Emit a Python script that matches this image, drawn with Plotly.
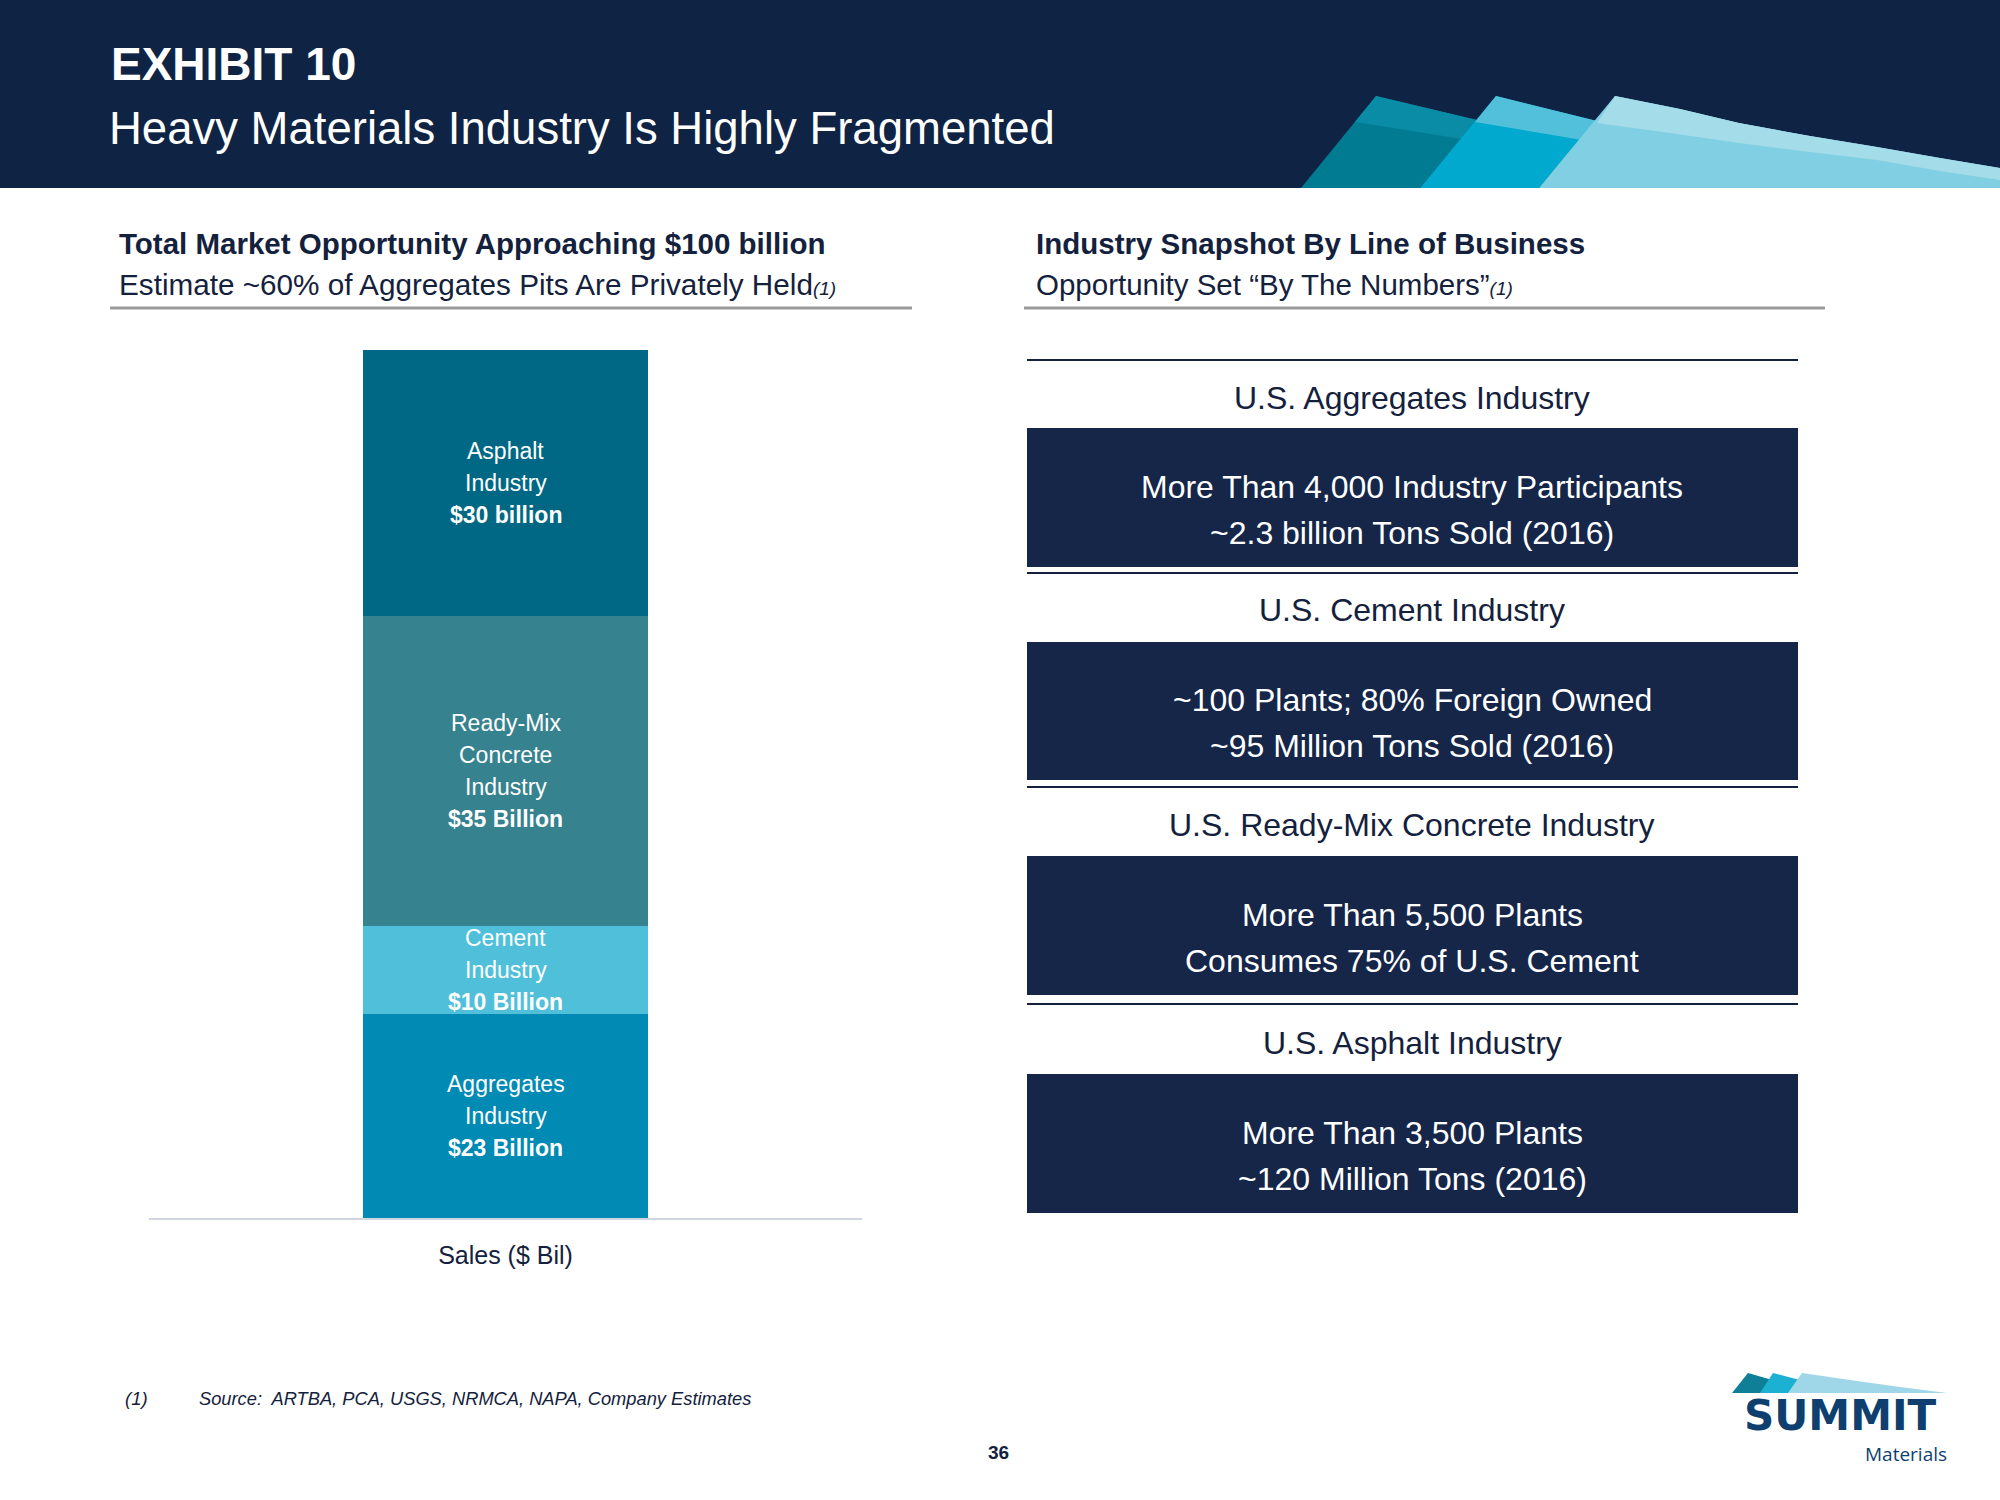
import plotly.graph_objects as go

# ---------------- DATA ----------------
category = ["Sales ($ Bil)"]
segment_names = ["Aggregates<br>Industry", "Cement<br>Industry", "Ready-Mix<br>Concrete<br>Industry", "Asphalt<br>Industry"]
segment_values = [23, 10, 35, 30]
segment_value_labels = ["$23 Billion", "$10 Billion", "$35 Billion", "$30 billion"]
segment_colors = ["#018ab3", "#50bfda", "#37828f", "#006884"]

section_titles = ["U.S. Aggregates Industry", "U.S. Cement Industry",
                  "U.S. Ready-Mix Concrete Industry", "U.S. Asphalt Industry"]
section_facts = [
    "More Than 4,000 Industry Participants<br>~2.3 billion Tons Sold (2016)",
    "~100 Plants; 80% Foreign Owned<br>~95 Million Tons Sold (2016)",
    "More Than 5,500 Plants<br>Consumes 75% of U.S. Cement",
    "More Than 3,500 Plants<br>~120 Million Tons (2016)",
]

exhibit = "EXHIBIT 10"
title = "Heavy Materials Industry Is Highly Fragmented"
left_head = "Total Market Opportunity Approaching $100 billion"
left_sub = "Estimate ~60% of Aggregates Pits Are Privately Held"
right_head = "Industry Snapshot By Line of Business"
right_sub = "Opportunity Set \u201cBy The Numbers\u201d"
footnote_num = "(1)"
footnote = "Source:  ARTBA, PCA, USGS, NRMCA, NAPA, Company Estimates"
page_no = "36"

# ---------------- STYLE ----------------
W, H = 2000, 1500
NARROW = "Liberation Sans Narrow, Arial Narrow, Liberation Sans, Arial, sans-serif"
NAVY = "#0f2344"
BOX = "#152649"
TXT = "#14213d"

def px(x):
    return x / W

def py(y):
    return 1 - y / H

def path(points):
    s = "M " + " L ".join(f"{px(x):.5f},{py(y):.5f}" for x, y in points)
    return s + " Z"

fig = go.Figure()

# stacked bar
for name, val, col in zip(segment_names, segment_values, segment_colors):
    fig.add_trace(go.Bar(x=category, y=[val], marker=dict(color=col, line=dict(width=0)),
                         width=0.4, name=name.replace("<br>", " "), hoverinfo="skip",
                         showlegend=False))

# bar labels at segment centres (one annotation per line for slide-like line spacing)
BAR_LINE = 32  # px between label lines
ppu = (1218 - 350) / 98.0  # pixels per unit on y axis (for line offsets)
base = 0
for name, val, lab in zip(segment_names, segment_values, segment_value_labels):
    lines = name.split("<br>") + [f"<b>{lab}</b>"]
    n = len(lines)
    mid = base + val / 2
    for i, ln in enumerate(lines):
        off_px = (i - (n - 1) / 2) * BAR_LINE
        fig.add_annotation(x=category[0], y=mid - off_px / ppu, xref="x", yref="y",
                           text=ln, showarrow=False, borderpad=0,
                           font=dict(family=NARROW, size=23, color="white"),
                           align="center", xanchor="center", yanchor="middle")
    base += val

shapes = []
# header band
shapes.append(dict(type="rect", xref="paper", yref="paper", x0=0, x1=1, y0=py(188), y1=1,
                   fillcolor=NAVY, line=dict(width=0), layer="below"))
# header decorations
deco = [
    ("#007b91", [(1301, 188), (1376, 96), (1477, 120), (1420, 188)]),
    ("#0a8ba6", [(1376, 96), (1477, 120), (1462, 139), (1355, 122)]),
    ("#00a9cd", [(1420, 188), (1496, 96), (1597, 121), (1539, 188)]),
    ("#52c0db", [(1496, 96), (1597, 121), (1582, 140), (1475, 122)]),
    ("#80cfe3", [(1539, 188), (1615, 96), (1680, 109), (1739, 123), (1810, 136), (1877, 147),
                 (1940, 158), (2000, 168), (2000, 188)]),
    ("#a5dcea", [(1615, 96), (1680, 109), (1739, 123), (1810, 136), (1877, 147), (1940, 158),
                 (2000, 168), (2000, 180), (1940, 171), (1877, 160), (1810, 152), (1739, 143),
                 (1670, 133), (1597, 123)]),
]
for col, pts in deco:
    shapes.append(dict(type="path", xref="paper", yref="paper", path=path(pts),
                       fillcolor=col, line=dict(width=0)))

# heading underlines
shapes.append(dict(type="line", xref="paper", yref="paper", x0=px(110), x1=px(912),
                   y0=py(308), y1=py(308), line=dict(color="#9a9a9a", width=3)))
shapes.append(dict(type="line", xref="paper", yref="paper", x0=px(1024), x1=px(1825),
                   y0=py(308), y1=py(308), line=dict(color="#9a9a9a", width=3)))

# right panel: lines & boxes
line_y = [360, 573, 787, 1004]
box_top = [428, 642, 856, 1074]
box_bot = [567, 780, 995, 1213]
title_y = [398, 610, 825, 1043]
for ly, bt, bb in zip(line_y, box_top, box_bot):
    shapes.append(dict(type="line", xref="paper", yref="paper", x0=px(1027), x1=px(1798),
                       y0=py(ly), y1=py(ly), line=dict(color=TXT, width=2)))
    shapes.append(dict(type="rect", xref="paper", yref="paper", x0=px(1027), x1=px(1798),
                       y0=py(bb), y1=py(bt), fillcolor=BOX, line=dict(width=0)))

# logo marks
logo = [
    ("#0e7f96", [(1732, 1393), (1748, 1373), (1790, 1385), (1760, 1393)]),
    ("#1cb1d3", [(1760, 1393), (1773, 1373), (1815, 1384), (1788, 1393)]),
    ("#9fd7e8", [(1788, 1393), (1802, 1373), (1850, 1380), (1900, 1387), (1947, 1393)]),
]
for col, pts in logo:
    shapes.append(dict(type="path", xref="paper", yref="paper", path=path(pts),
                       fillcolor=col, line=dict(width=0)))

ann = []
def text(x, y, t, size, color=TXT, family=NARROW, xanchor="left", bold=False, italic=False):
    if bold:
        t = f"<b>{t}</b>"
    if italic:
        t = f"<i>{t}</i>"
    ann.append(dict(x=px(x), y=py(y), xref="paper", yref="paper", text=t, showarrow=False,
                    font=dict(family=family, size=size, color=color), xanchor=xanchor,
                    yanchor="middle", align="center", borderpad=0))

text(110, 64, exhibit, 46, color="white", bold=True)
text(108, 129, title, 45.5, color="white")
text(118, 244, left_head, 29.5, bold=True)
text(118, 285, left_sub + "<i><span style='font-size:19px'>(1)</span></i>", 29.7)
text(1035, 244, right_head, 29.5, bold=True)
text(1035, 285, right_sub + "<i><span style='font-size:19px'>(1)</span></i>", 29.5)

for t, y in zip(section_titles, title_y):
    text(1412, y, t, 32, xanchor="center")
FACT_LINE = 46
for f, bt, bb in zip(section_facts, box_top, box_bot):
    lines = f.split("<br>")
    n = len(lines)
    c = (bt + bb) / 2 + 12
    for i, ln in enumerate(lines):
        text(1412, c + (i - (n - 1) / 2) * FACT_LINE, ln, 32, color="white", xanchor="center")

text(124, 1398, footnote_num, 18.5, italic=True)
text(198, 1398, footnote, 18.3, italic=True)
text(998, 1452, page_no, 19, xanchor="center", bold=True)

# logo text
text(1840, 1415, "SUMMIT", 42, color="#0e3f6e", family="DejaVu Sans, sans-serif",
     xanchor="center", bold=True)
text(1948, 1454, "Materials", 19, color="#0e3f6e", family="Open Sans, sans-serif",
     xanchor="right")

fig.update_layout(
    width=W, height=H, margin=dict(l=0, r=0, t=0, b=0),
    paper_bgcolor="white", plot_bgcolor="white",
    barmode="stack", bargap=0, showlegend=False,
    shapes=shapes, annotations=fig.layout.annotations + tuple(ann),
    xaxis=dict(domain=[px(149), px(862)], range=[-0.5, 0.5], showline=True,
               linecolor="#d0d5e0", linewidth=2, showgrid=False, zeroline=False,
               ticks="", tickfont=dict(family=NARROW, size=25, color=TXT),
               ticklabelstandoff=14, fixedrange=True),
    yaxis=dict(domain=[1 - 1218 / H, 1 - 350 / H], range=[0, 98], visible=False,
               showgrid=False, zeroline=False, fixedrange=True),
)

fig.write_html("out.html")
